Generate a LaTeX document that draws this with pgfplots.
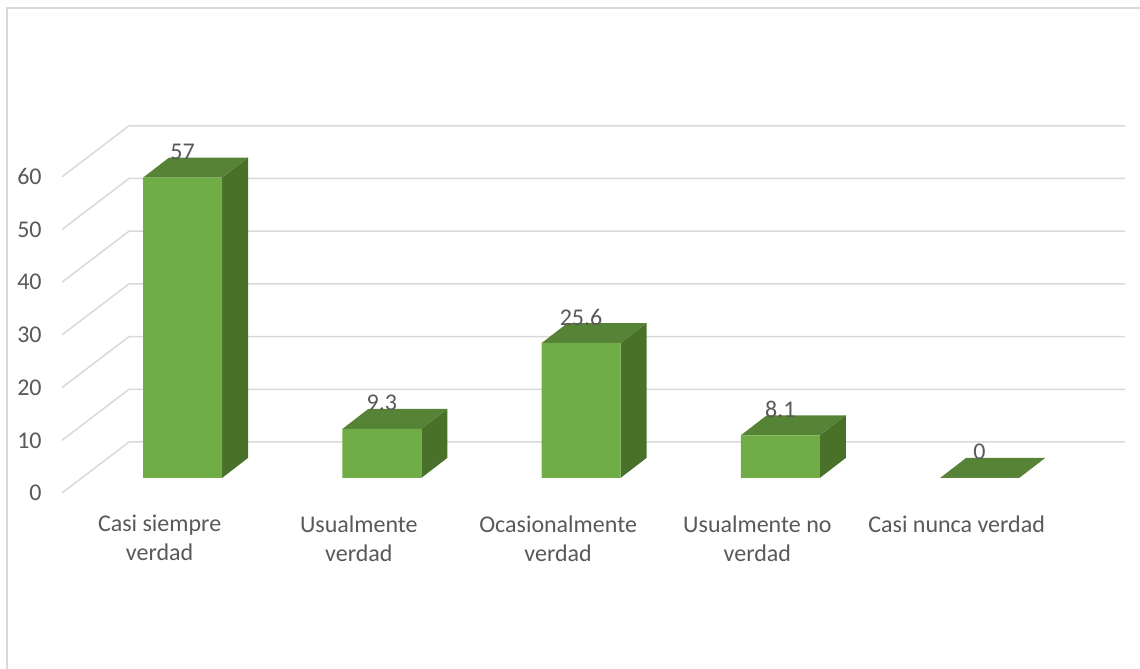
\documentclass[border=0pt]{standalone}
\usepackage{pgfplots}
\pgfplotsset{compat=1.18}
\usepackage{fontspec}
\setmainfont{Carlito}
\definecolor{frontc}{RGB}{112,173,71}
\definecolor{topc}{RGB}{86,131,54}
\definecolor{sidec}{RGB}{74,113,42}
\definecolor{gridc}{RGB}{217,217,217}
\definecolor{txt}{RGB}{89,89,89}

\pgfplotstableread{
x v
0 57
1 9.3
2 25.6
3 8.1
4 0
}\datatable

\newcommand\bw{0.198}
\newcommand\ddx{0.1305}
\newcommand\ddy{3.8}
% depth faces of a bar: #1 = category position, #2 = value
\newcommand\cuboid[2]{%
  \pgfmathsetmacro\xl{#1-\bw}\pgfmathsetmacro\xr{#1+\bw}%
  \pgfmathsetmacro\xld{\xl+\ddx}\pgfmathsetmacro\xrd{\xr+\ddx}%
  \pgfmathsetmacro\vt{#2+\ddy}%
  \edef\tmp{%
    \noexpand\addplot[fill=sidec,draw=none,forget plot] coordinates {(\xr,0) (\xrd,\ddy) (\xrd,\vt) (\xr,#2)} -- cycle;
    \noexpand\addplot[fill=topc,draw=none,forget plot] coordinates {(\xl,#2) (\xr,#2) (\xrd,\vt) (\xld,\vt)} -- cycle;
  }\tmp}
% gridline: #1 = value
\newcommand\gridl[1]{%
  \pgfmathsetmacro\ga{#1-2.85}\pgfmathsetmacro\gb{#1+6.83}%
  \edef\tmp{%
    \noexpand\addplot[gridc,line width=0.75pt,forget plot] coordinates {(-0.605,\ga) (-0.2685,\gb) (4.73,\gb)};
  }\tmp}

\begin{document}
\begin{tikzpicture}
\useasboundingbox (0,0) rectangle (570pt,334.5pt);
\draw[gridc,line width=1.25pt] (3.5pt,0) -- (3.5pt,330.5pt) -- (570pt,330.5pt);
\begin{axis}[
  x=99.625pt, y=2.635pt,
  anchor=south west, at={(31pt,88pt)},
  xmin=-0.605, xmax=4.73, ymin=-2.85, ymax=66.93,
  clip=false,
  axis line style={draw=none},
  major tick length=0pt,
  tick style={draw=none},
  ytick={-2.85,7.15,17.15,27.15,37.15,47.15,57.15},
  yticklabels={0,10,20,30,40,50,60},
  yticklabel style={anchor=east,inner sep=0pt,xshift=-10pt},
  xtick={-0.115,0.885,1.885,2.885,3.885},
  xticklabels={{Casi siempre\\verdad},{Usualmente\\verdad},{Ocasionalmente\\verdad},{Usualmente no\\verdad},{Casi nunca verdad}},
  xticklabel style={anchor=north,align=center,inner sep=0pt,yshift=-11pt},
  tick label style={font=\fontsize{12}{14.5}\selectfont,text=txt},
]
\gridl{0}\gridl{10}\gridl{20}\gridl{30}\gridl{40}\gridl{50}\gridl{60}
\cuboid{0}{57}
\cuboid{1}{9.3}
\cuboid{2}{25.6}
\cuboid{3}{8.1}
\cuboid{4}{0}
\addplot[ybar, bar width=0.396, fill=frontc, draw=none,
  nodes near coords={\pgfmathprintnumber[assume math mode=true]{\pgfplotspointmeta}},
  every node near coord/.append style={anchor=center,yshift=13pt,font=\fontsize{12}{14.5}\selectfont,text=txt}]
  table[x=x,y=v] {\datatable};
\end{axis}
\end{tikzpicture}
\end{document}
